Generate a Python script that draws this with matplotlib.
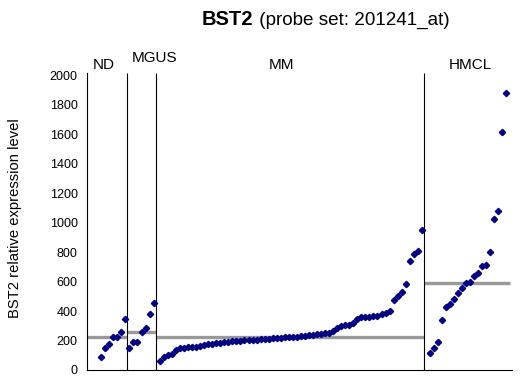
import numpy as np
import matplotlib
matplotlib.use('Agg')
import matplotlib.pyplot as plt

plt.rcParams['font.family'] = ['Liberation Sans', 'DejaVu Sans']

# values, sorted within each group
groups = ['ND', 'MGUS', 'MM', 'HMCL']
nd = [90, 147, 176, 226, 226, 258, 344]
mgus = [147, 188, 188, 256, 283, 378, 456]
mm = [59, 90, 99, 108, 138, 147, 151, 153, 156, 158, 163, 167, 174, 178, 183, 185,
      188, 192, 194, 197, 199, 201, 203, 203, 206, 208, 210, 212, 215, 217, 219, 222,
      222, 224, 226, 228, 231, 235, 237, 242, 244, 249, 253, 262,
      287, 298, 305, 307, 316, 348, 357, 357, 361, 364, 368, 380, 388, 400,
      477, 500, 527, 583, 737, 791, 805, 949]
hmcl = [113, 151, 190, 339, 429, 447, 479, 520, 554, 588, 599, 637, 660, 707, 712,
        800, 1026, 1078, 1618, 1880]
yticks = list(range(0, 2001, 200))
title_bold = 'BST2'
title_rest = ' (probe set: 201241_at)'
ylabel = 'BST2 relative expression level'

W, H = 520, 378
fig = plt.figure(figsize=(W / 100, H / 100), dpi=100)
ax = fig.add_axes([87.3 / W, 1 - 370 / H, (511.7 - 87.3) / W, (370 - 75.5) / H])

# x positions: one step per sample, small gaps around the separators
data = [nd, mgus, mm, hmcl]
gap_before = [3.3, 0.5, 0.9, 1.3]
gap_after = 0.65
pos = 0
left = 0
for k, vals in enumerate(data):
    xs = pos + gap_before[k] + np.arange(len(vals))
    if k < len(data) - 1:
        right = xs[-1] + gap_after
    else:
        right = 104.9
    # median bar
    ax.hlines(np.median(vals), left, right, color='#999999', lw=2.4, zorder=1)
    ax.plot(xs, vals, 'D', color='#000080', ms=3.2, ls='none', zorder=3)
    if k < len(data) - 1:
        ax.vlines(right, 0, 2015, color='black', lw=0.8, zorder=2, clip_on=False)
    left = right
    pos = right

ax.set_xlim(0, 105.3)
ax.set_ylim(0, 2000)
ax.set_yticks(yticks)
ax.set_xticks([])
ax.tick_params(axis='y', length=0, pad=7, labelsize=9)
for s in ['top', 'right']:
    ax.spines[s].set_visible(False)
ax.spines['left'].set_linewidth(0.8)
ax.spines['bottom'].set_linewidth(0.8)
ax.spines['left'].set_bounds(0, 2015)

# group names above the panels
label_x = [104, 155, 281.5, 470]
label_base = [69, 61.7, 69, 69]
for name, lx, ly in zip(groups, label_x, label_base):
    fig.text(lx / W, 1 - ly / H, name, ha='center', va='baseline', fontsize=11)

fig.text(201.7 / W, 1 - 25 / H, title_bold, ha='left', va='baseline',
         fontsize=14.5, fontweight='bold')
fig.text(253.5 / W, 1 - 25 / H, title_rest, ha='left', va='baseline', fontsize=13.6)
fig.text(15 / W, 1 - 218.5 / H, ylabel, rotation=90, ha='center', va='center',
         fontsize=10.6)

fig.savefig('out.png', dpi=100)
